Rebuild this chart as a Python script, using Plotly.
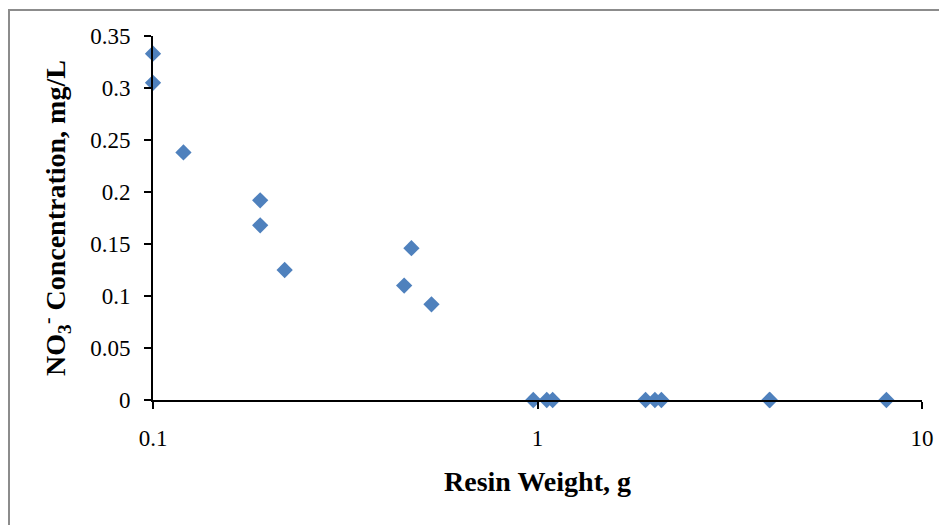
import plotly.graph_objects as go

# Data
resin_weight_g = [0.1, 0.1, 0.12, 0.19, 0.19, 0.22, 0.45, 0.47, 0.53,
                  0.975, 1.057, 1.095, 1.91, 2.02, 2.10, 4.01, 4.02, 8.08]
no3_mg_l = [0.333, 0.305, 0.238, 0.192, 0.168, 0.125, 0.110, 0.146, 0.092,
            0.0, 0.0, 0.0, 0.0, 0.0, 0.0, 0.0, 0.0, 0.0]

x_tickvals = [0.1, 1, 10]
x_ticktext = ["0.1", "1", "10"]
y_tickvals = [0, 0.05, 0.1, 0.15, 0.2, 0.25, 0.3, 0.35]
y_ticktext = ["0", "0.05", "0.1", "0.15", "0.2", "0.25", "0.3", "0.35"]

# page has an 8px body margin, so the figure starts at (8, 8)
W, H = 939, 517
L, R, T, B = 145, 25, 28, 125
pw, ph = W - L - R, H - T - B

def px_to_paper_x(px):
    return (px - L) / pw

def px_to_paper_y(py):
    return (H - B - py) / ph

fig = go.Figure()
fig.add_trace(go.Scatter(
    x=resin_weight_g, y=no3_mg_l, mode="markers",
    marker=dict(symbol="diamond", size=12.5, color="#4F81BD",
                line=dict(width=0)),
    cliponaxis=False, showlegend=False,
))

font_family = "Liberation Serif"
fig.update_layout(
    width=W, height=H,
    margin=dict(l=L, r=R, t=T, b=B, autoexpand=False),
    paper_bgcolor="white", plot_bgcolor="white",
    font=dict(family=font_family, color="black", size=20),
    xaxis=dict(
        type="log", range=[-1, 1],
        tickvals=x_tickvals, ticktext=x_ticktext,
        showgrid=False, zeroline=False,
        showline=True, linecolor="black", linewidth=2,
        ticks="outside", ticklen=7, tickwidth=2, tickcolor="black",
        ticklabelstandoff=9,
        tickfont=dict(family=font_family, size=23, color="black"),
        title=dict(text="<b>Resin Weight, g</b>",
                   font=dict(family=font_family, size=28, color="black"),
                   standoff=22),
    ),
    yaxis=dict(
        range=[0, 0.35],
        tickvals=y_tickvals, ticktext=y_ticktext,
        showgrid=False, zeroline=False,
        showline=True, linecolor="black", linewidth=2,
        ticks="outside", ticklen=7, tickwidth=2, tickcolor="black",
        ticklabelstandoff=9,
        tickfont=dict(family=font_family, size=23, color="black"),
        title=dict(text="<b>NO<sub>3</sub><sup>-</sup> Concentration, mg/L</b>",
                   font=dict(family=font_family, size=28, color="black"),
                   standoff=16),
    ),
    shapes=[dict(
        type="rect", xref="paper", yref="paper",
        x0=px_to_paper_x(1), y0=px_to_paper_y(560),
        x1=px_to_paper_x(990), y1=px_to_paper_y(2),
        line=dict(color="#8c8c8c", width=2), fillcolor="rgba(0,0,0,0)",
        layer="below",
    )],
)

fig.write_html("out.html")
